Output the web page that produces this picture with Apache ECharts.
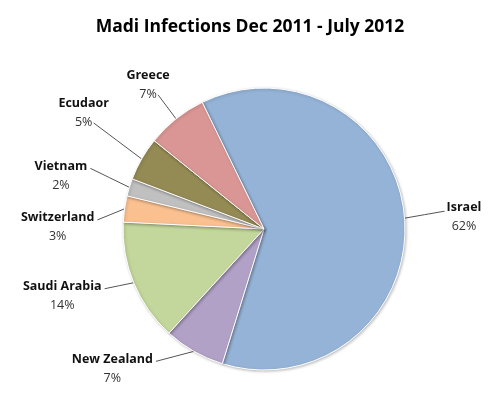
<!DOCTYPE html>
<html>
<head>
<meta charset="utf-8">
<script src="https://cdn.jsdelivr.net/npm/echarts@6/dist/echarts.min.js"></script>
<style>
  html, body { margin: 0; padding: 0; background: #fff; }
  #chart { width: 500px; height: 399px; }
</style>
</head>
<body>
<div id="chart"></div>
<script>
const countries = ['Israel', 'New Zealand', 'Saudi Arabia', 'Switzerland', 'Vietnam', 'Ecudaor', 'Greece']
const shares = [62, 7, 14, 3, 2, 5, 7]
const colors = ['#95b3d7', '#b2a1c7', '#c3d69b', '#fac090', '#c0c0c0', '#948a54', '#d99694']

// leader line vectors (from slice edge), Excel-style
const leaders = [[40, -7], [-38, 10], [-29, 6], [-27, 11], [-39, -19], [-48, -36], [-18, -24]]

const chart = echarts.init(document.getElementById('chart'))
const font = '"Open Sans", "Noto Sans", sans-serif'
const LH = 19

chart.setOption({
  animation: false,
  title: {
    text: 'Madi Infections Dec 2011 - July 2012',
    left: 'center',
    top: 13,
    textStyle: { fontFamily: font, fontSize: 17.5, fontWeight: 'bold', color: '#000' },
  },
  series: [
    {
      type: 'pie',
      center: [264, 229],
      radius: 141,
      startAngle: 116,
      clockwise: true,
      avoidLabelOverlap: false,
      data: countries.map((name, i) => ({
        name,
        value: shares[i],
        itemStyle: { color: colors[i] },
      })),
      itemStyle: {
        borderColor: '#fff',
        borderWidth: 1,
        shadowColor: 'rgba(0,0,0,0.25)',
        shadowBlur: 3,
        shadowOffsetX: 1,
        shadowOffsetY: 1,
      },
      label: {
        position: 'outside',
        formatter: '{b|{b}}\n{d|{d}%}',
        rich: {
          b: { fontFamily: font, fontSize: 12.5, fontWeight: 'bold', align: 'center', lineHeight: LH, color: '#111' },
          d: { fontFamily: font, fontSize: 12.5, align: 'center', lineHeight: LH, color: '#333' },
        },
      },
      labelLine: {
        show: true,
        length: 20,
        length2: 5,
        lineStyle: { color: '#555', width: 1 },
      },
      labelLayout: (p) => {
        const pts = p.labelLinePoints
        if (!pts) return {}
        const start = pts[0]
        const v = leaders[p.dataIndex]
        const end = [start[0] + v[0], start[1] + v[1]]
        const w = p.labelRect.width
        let x, nameY
        if (Math.abs(v[1]) > Math.abs(v[0]) * 0.6) {
          // steep leader: label sits above the line end
          x = end[0] - 10
          nameY = end[1] - 19
        } else if (v[0] < 0) {
          x = end[0] - 3 - w / 2
          nameY = end[1] - 2
        } else {
          x = end[0] + 2 + w / 2
          nameY = end[1] - 4
        }
        return {
          x,
          y: nameY + LH / 2,
          align: 'center',
          verticalAlign: 'middle',
          hideOverlap: false,
          moveOverlap: false,
          labelLinePoints: [start, [(start[0] + end[0]) / 2, (start[1] + end[1]) / 2], end],
        }
      },
    },
  ],
})
</script>
</body>
</html>
